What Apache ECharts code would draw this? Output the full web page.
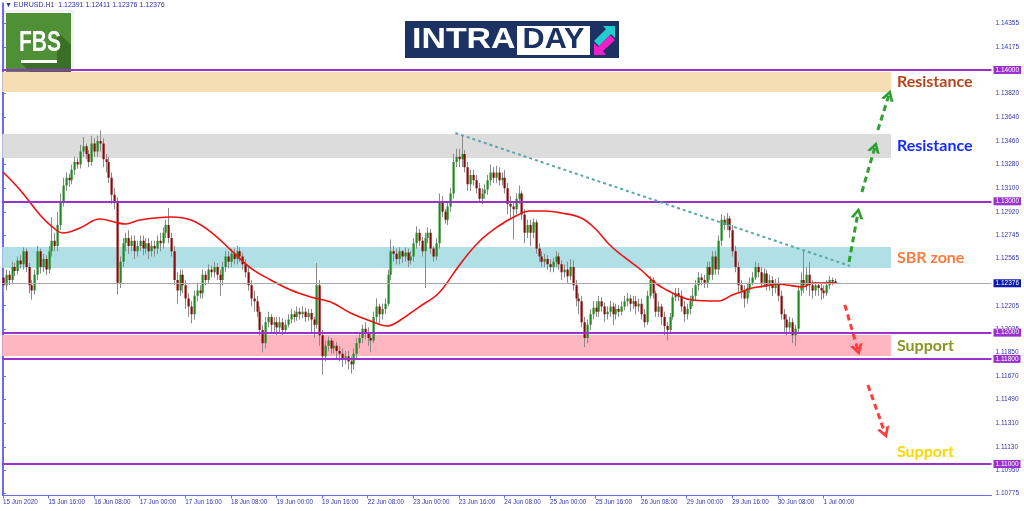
<!DOCTYPE html>
<html><head><meta charset="utf-8">
<script src="https://cdn.jsdelivr.net/npm/echarts@6/dist/echarts.min.js"></script>
<style>html,body{margin:0;padding:0;background:#fff}#c{width:1024px;height:511px}</style>
</head><body><div id="c"></div><script>
// ---------- DATA (EURUSD H1) ----------
const opens=[
1.1242,1.1236,1.1244,1.1240,1.1250,1.1247,1.1255,1.1252,1.1262,1.1250,1.1236,1.1232,1.1244,1.1262,1.1250,1.1256,
1.1248,1.1262,1.1270,1.1266,1.1282,1.1300,1.1312,1.1318,1.1316,1.1324,1.1330,1.1328,1.1338,1.1342,1.1336,1.1330,
1.1344,1.1338,1.1346,1.1344,1.1332,1.1330,1.1318,1.1305,1.1300,1.1238,1.1254,1.1268,1.1272,1.1266,1.1270,1.1262,
1.1266,1.1270,1.1264,1.1268,1.1262,1.1266,1.1264,1.1270,1.1268,1.1276,1.1282,1.1272,1.1262,1.1240,1.1232,1.1244,
1.1236,1.1226,1.1220,1.1214,1.1228,1.1232,1.1230,1.1244,1.1240,1.1248,1.1246,1.1250,1.1244,1.1240,1.1250,1.1258,
1.1254,1.1260,1.1256,1.1262,1.1258,1.1252,1.1246,1.1236,1.1226,1.1224,1.1216,1.1202,1.1192,1.1208,1.1212,1.1206,
1.1208,1.1204,1.1208,1.1202,1.1206,1.1210,1.1214,1.1212,1.1216,1.1214,1.1216,1.1212,1.1215,1.1210,1.1206,1.1236,
1.1198,1.1182,1.1190,1.1194,1.1188,1.1190,1.1186,1.1184,1.1180,1.1182,1.1178,1.1176,1.1184,1.1192,1.1196,1.1203,
1.1200,1.1196,1.1194,1.1212,1.1220,1.1214,1.1218,1.1222,1.1244,1.1262,1.1260,1.1256,1.1262,1.1258,1.1261,1.1255,
1.1258,1.1268,1.1276,1.1270,1.1262,1.1272,1.1276,1.1264,1.1258,1.1268,1.1300,1.1292,1.1286,1.1296,1.1306,1.1330,
1.1334,1.1332,1.1336,1.1326,1.1313,1.1320,1.1316,1.1310,1.1302,1.1306,1.1309,1.1316,1.1322,1.1318,1.1322,1.1316,
1.1318,1.1310,1.1298,1.1296,1.1294,1.1302,1.1306,1.1290,1.1276,1.1282,1.1276,1.1284,1.1264,1.1258,1.1254,1.1256,
1.1252,1.1250,1.1254,1.1258,1.1252,1.1246,1.1248,1.1243,1.1250,1.1236,1.1226,1.1224,1.1208,1.1196,1.1206,1.1214,
1.1219,1.1216,1.1224,1.1220,1.1214,1.1216,1.1220,1.1214,1.1218,1.1216,1.1220,1.1224,1.1226,1.1222,1.1224,1.1220,
1.1222,1.1214,1.1208,1.1228,1.1240,1.1230,1.1216,1.1220,1.1212,1.1205,1.1202,1.1212,1.1227,1.1230,1.1228,1.1220,
1.1214,1.1218,1.1224,1.1228,1.1236,1.1242,1.1240,1.1238,1.1250,1.1244,1.1258,1.1248,1.1270,1.1286,1.1282,1.1287,
1.1278,1.1262,1.1250,1.1236,1.1232,1.1226,1.1234,1.1238,1.1242,1.1250,1.1246,1.1238,1.1245,1.1236,1.1240,1.1234,
1.1238,1.1228,1.1214,1.1210,1.1204,1.1208,1.1198,1.1203,1.1232,1.1240,1.1236,1.1244,1.1236,1.1232,1.1236,1.1234,
1.1232,1.1230,1.1236,1.1240,1.12391];
const highs=[
1.1246,1.1248,1.1247,1.1254,1.1253,1.1258,1.1259,1.1265,1.1264,1.1253,1.1240,1.1248,1.1266,1.1264,1.1260,1.1259,
1.1266,1.1288,1.1276,1.1292,1.1306,1.1318,1.1322,1.1321,1.1328,1.1334,1.1333,1.1343,1.1349,1.1344,1.1339,1.1350,
1.1348,1.1350,1.1354,1.1348,1.1336,1.1334,1.1322,1.1310,1.1303,1.1258,1.1272,1.1276,1.1278,1.1274,1.1274,1.1270,
1.1274,1.1274,1.1272,1.1272,1.1270,1.1270,1.1274,1.1276,1.1280,1.1286,1.1295,1.1276,1.1266,1.1246,1.1248,1.1248,
1.1240,1.1230,1.1224,1.1232,1.1238,1.1236,1.1248,1.1247,1.1252,1.1251,1.1254,1.1253,1.1248,1.1254,1.1262,1.1262,
1.1264,1.1264,1.1266,1.1265,1.1261,1.1256,1.1250,1.1240,1.1232,1.1228,1.1220,1.1206,1.1212,1.1216,1.1214,1.1212,
1.1212,1.1212,1.1211,1.1210,1.1214,1.1218,1.1217,1.1220,1.1219,1.1220,1.1219,1.1218,1.1218,1.1212,1.1253,1.1240,
1.1202,1.1194,1.1197,1.1196,1.1194,1.1193,1.1190,1.1188,1.1186,1.1186,1.1182,1.1188,1.1196,1.1200,1.1206,1.1208,
1.1204,1.1200,1.1216,1.1226,1.1222,1.1222,1.1226,1.1248,1.1271,1.1266,1.1264,1.1265,1.1263,1.1265,1.1264,1.1262,
1.1272,1.1281,1.1279,1.1273,1.1276,1.1280,1.1279,1.1266,1.1272,1.1306,1.1304,1.1294,1.1300,1.1310,1.1336,1.1340,
1.1340,1.1350,1.1339,1.1330,1.1324,1.1324,1.1320,1.1314,1.1310,1.1313,1.1320,1.1328,1.1326,1.1327,1.1326,1.1322,
1.1324,1.1314,1.1304,1.1300,1.1306,1.1312,1.1308,1.1294,1.1286,1.1286,1.1287,1.1286,1.1268,1.1262,1.1260,1.1259,
1.1256,1.1257,1.1262,1.1261,1.1255,1.1252,1.1254,1.1256,1.1255,1.1240,1.1230,1.1228,1.1212,1.1210,1.1218,1.1224,
1.1224,1.1228,1.1227,1.1223,1.1220,1.1224,1.1223,1.1222,1.1221,1.1224,1.1228,1.1230,1.1229,1.1228,1.1228,1.1226,
1.1226,1.1218,1.1232,1.1243,1.1242,1.1232,1.1224,1.1222,1.1216,1.1208,1.1215,1.1230,1.1234,1.1234,1.1232,1.1224,
1.1222,1.1228,1.1234,1.1240,1.1246,1.1245,1.1244,1.1254,1.1254,1.1262,1.1262,1.1274,1.1290,1.1289,1.1291,1.1289,
1.1282,1.1266,1.1254,1.1240,1.1236,1.1238,1.1242,1.1246,1.1254,1.1253,1.1250,1.1249,1.1248,1.1244,1.1243,1.1241,
1.1242,1.1232,1.1218,1.1214,1.1212,1.1211,1.1206,1.1236,1.1246,1.1263,1.1250,1.1254,1.1240,1.1239,1.1238,1.1237,
1.1236,1.1240,1.1243,1.1242,1.12411];
const lows=[
1.1228,1.1232,1.1236,1.1237,1.1243,1.1244,1.1249,1.1248,1.1246,1.1230,1.1225,1.1229,1.1240,1.1245,1.1246,1.1244,
1.1245,1.1258,1.1262,1.1262,1.1278,1.1296,1.1308,1.1311,1.1313,1.1320,1.1325,1.1325,1.1334,1.1332,1.1326,1.1327,
1.1334,1.1334,1.1338,1.1326,1.1322,1.1314,1.1298,1.1294,1.1229,1.1234,1.1250,1.1262,1.1260,1.1262,1.1256,1.1258,
1.1262,1.1259,1.1260,1.1256,1.1258,1.1258,1.1260,1.1262,1.1264,1.1272,1.1268,1.1258,1.1236,1.1222,1.1228,1.1230,
1.1218,1.1212,1.1207,1.1210,1.1224,1.1226,1.1226,1.1236,1.1237,1.1242,1.1242,1.1240,1.1228,1.1236,1.1246,1.1249,
1.1250,1.1252,1.1252,1.1254,1.1248,1.1242,1.1232,1.1220,1.1216,1.1212,1.1198,1.1185,1.1188,1.1204,1.1200,1.1200,
1.1198,1.1200,1.1198,1.1200,1.1204,1.1207,1.1208,1.1209,1.1210,1.1211,1.1208,1.1209,1.1200,1.1196,1.1203,1.1190,
1.1168,1.1178,1.1186,1.1184,1.1184,1.1180,1.1178,1.1174,1.1176,1.1172,1.1169,1.1172,1.1180,1.1188,1.1192,1.1195,
1.1190,1.1185,1.1192,1.1208,1.1207,1.1210,1.1214,1.1220,1.1240,1.1254,1.1252,1.1252,1.1253,1.1254,1.1250,1.1252,
1.1254,1.1264,1.1266,1.1258,1.1234,1.1268,1.1260,1.1254,1.1255,1.1264,1.1288,1.1283,1.1282,1.1292,1.1302,1.1326,
1.1326,1.1326,1.1322,1.1308,1.1308,1.1312,1.1306,1.1299,1.1298,1.1302,1.1305,1.1312,1.1314,1.1314,1.1312,1.1312,
1.1306,1.1290,1.1286,1.1271,1.1290,1.1298,1.1286,1.1268,1.1272,1.1266,1.1272,1.1260,1.1254,1.1250,1.1250,1.1248,
1.1246,1.1246,1.1250,1.1248,1.1240,1.1242,1.1238,1.1240,1.1232,1.1220,1.1214,1.1204,1.1189,1.1192,1.1202,1.1210,
1.1212,1.1212,1.1216,1.1208,1.1210,1.1212,1.1206,1.1210,1.1212,1.1213,1.1217,1.1220,1.1216,1.1218,1.1214,1.1216,
1.1210,1.1204,1.1206,1.1226,1.1226,1.1212,1.1212,1.1206,1.1198,1.1194,1.1200,1.1210,1.1224,1.1224,1.1216,1.1208,
1.1210,1.1214,1.1220,1.1224,1.1232,1.1236,1.1234,1.1234,1.1240,1.1240,1.1244,1.1244,1.1266,1.1278,1.1278,1.1272,
1.1258,1.1246,1.1230,1.1226,1.1219,1.1222,1.1230,1.1236,1.1240,1.1242,1.1234,1.1235,1.1232,1.1232,1.1228,1.1230,
1.1224,1.1210,1.1200,1.1198,1.1200,1.1192,1.1190,1.1200,1.1228,1.1230,1.1232,1.1228,1.1226,1.1228,1.1228,1.1225,
1.1226,1.1228,1.1233,1.1236,1.12376];
const closes=[
1.1236,1.1244,1.1240,1.1250,1.1247,1.1255,1.1252,1.1262,1.1250,1.1236,1.1232,1.1244,1.1262,1.1250,1.1256,1.1248,
1.1262,1.1270,1.1266,1.1282,1.1300,1.1312,1.1318,1.1316,1.1324,1.1330,1.1328,1.1338,1.1342,1.1336,1.1330,1.1344,
1.1338,1.1346,1.1344,1.1332,1.1330,1.1318,1.1305,1.1300,1.1238,1.1254,1.1268,1.1272,1.1266,1.1270,1.1262,1.1266,
1.1270,1.1264,1.1268,1.1262,1.1266,1.1264,1.1270,1.1268,1.1276,1.1282,1.1272,1.1262,1.1240,1.1232,1.1244,1.1236,
1.1226,1.1220,1.1214,1.1228,1.1232,1.1230,1.1244,1.1240,1.1248,1.1246,1.1250,1.1244,1.1240,1.1250,1.1258,1.1254,
1.1260,1.1256,1.1262,1.1258,1.1252,1.1246,1.1236,1.1226,1.1224,1.1216,1.1202,1.1192,1.1208,1.1212,1.1206,1.1208,
1.1204,1.1208,1.1202,1.1206,1.1210,1.1214,1.1212,1.1216,1.1214,1.1216,1.1212,1.1215,1.1210,1.1206,1.1236,1.1198,
1.1182,1.1190,1.1194,1.1188,1.1190,1.1186,1.1184,1.1180,1.1182,1.1178,1.1176,1.1184,1.1192,1.1196,1.1203,1.1200,
1.1196,1.1194,1.1212,1.1220,1.1214,1.1218,1.1222,1.1244,1.1262,1.1260,1.1256,1.1262,1.1258,1.1261,1.1255,1.1258,
1.1268,1.1276,1.1270,1.1262,1.1272,1.1276,1.1264,1.1258,1.1268,1.1300,1.1292,1.1286,1.1296,1.1306,1.1330,1.1334,
1.1332,1.1336,1.1326,1.1313,1.1320,1.1316,1.1310,1.1302,1.1306,1.1309,1.1316,1.1322,1.1318,1.1322,1.1316,1.1318,
1.1310,1.1298,1.1296,1.1294,1.1302,1.1306,1.1290,1.1276,1.1282,1.1276,1.1284,1.1264,1.1258,1.1254,1.1256,1.1252,
1.1250,1.1254,1.1258,1.1252,1.1246,1.1248,1.1243,1.1250,1.1236,1.1226,1.1224,1.1208,1.1196,1.1206,1.1214,1.1219,
1.1216,1.1224,1.1220,1.1214,1.1216,1.1220,1.1214,1.1218,1.1216,1.1220,1.1224,1.1226,1.1222,1.1224,1.1220,1.1222,
1.1214,1.1208,1.1228,1.1240,1.1230,1.1216,1.1220,1.1212,1.1205,1.1202,1.1212,1.1227,1.1230,1.1228,1.1220,1.1214,
1.1218,1.1224,1.1228,1.1236,1.1242,1.1240,1.1238,1.1250,1.1244,1.1258,1.1248,1.1270,1.1286,1.1282,1.1287,1.1278,
1.1262,1.1250,1.1236,1.1232,1.1226,1.1234,1.1238,1.1242,1.1250,1.1246,1.1238,1.1245,1.1236,1.1240,1.1234,1.1238,
1.1228,1.1214,1.1210,1.1204,1.1208,1.1198,1.1203,1.1232,1.1240,1.1236,1.1244,1.1236,1.1232,1.1236,1.1234,1.1232,
1.1230,1.1236,1.1240,1.1239,1.12376];

// moving average (red line), sampled at bar indices
const maIdx=[0,6,13,17,21,27,34,39,43,48,59,66,73,80,87,94,101,108,115,122,129,135,139,146,153,160,167,174,180,185,190,196,203,208,213,218,224,229,233,238,242,251,256,259,263,268,272,275,281,284,292];
const maVals=[1.13223,1.13086,1.12896,1.12812,1.12759,1.12797,1.12865,1.12843,1.12827,1.12858,1.12881,1.12858,1.12766,1.12629,1.12492,1.12401,1.12325,1.12272,1.12233,1.12150,1.12089,1.12051,1.12089,1.12195,1.12302,1.12508,1.12690,1.12812,1.12888,1.12926,1.12926,1.12911,1.12873,1.12789,1.12667,1.12576,1.12477,1.12378,1.12325,1.12272,1.12249,1.12241,1.12287,1.12310,1.12340,1.12356,1.12371,1.12363,1.12348,1.12378,1.12380];

// axis ticks
const xTickIdx=[0,16,32,48,64,80,96,112,128,144,160,176,192,208,224,240,256,272,288];
const xTickLabels=['15 Jun 2020','15 Jun 16:00','16 Jun 08:00','17 Jun 00:00','17 Jun 16:00','18 Jun 08:00','19 Jun 00:00','19 Jun 16:00','22 Jun 08:00','23 Jun 00:00','23 Jun 16:00','24 Jun 08:00','25 Jun 00:00','25 Jun 16:00','26 Jun 08:00','29 Jun 00:00','29 Jun 16:00','30 Jun 08:00','1 Jul 00:00'];
const yTickVals=[1.14355,1.14175,1.13820,1.13640,1.13460,1.13280,1.13100,1.12920,1.12745,1.12565,1.12205,1.12025,1.11850,1.11670,1.11490,1.11310,1.11130,1.10950,1.10775];

// horizontal levels and zones
const levelVals=[1.14000,1.13000,1.12000,1.11800,1.11000];
const lastPrice=1.12376;
const zoneNames=['Resistance','Resistance','SBR zone','Support'];
const zoneLow=[1.13832,1.13330,1.12492,1.11822];
const zoneHigh=[1.13985,1.13513,1.12652,1.11982];
const zoneEndIdx=311.7;
const extraLabel={name:'Support',idx:311.7,price:1.11091};

// trend line and scenario arrows (bar index, price)
const trendLine=[[158.8,1.13520],[297.3,1.12508]];
const upArrows=[[[297.0,1.12538],[300.1,1.12911]],[[301.5,1.13071],[306.1,1.13414]],[[307.1,1.13543],[311.0,1.13810]]];
const downArrows=[[[295.5,1.12211],[300.1,1.11868]],[[303.6,1.11601],[309.6,1.11236]]];

// ---------- STYLE ----------
const X_MIN=-0.25, X_MAX=347, Y_MIN=1.1076, Y_MAX=1.1451;
const AXIS_COLOR='#6b6bef', LABEL_COLOR='#3434b4', PURPLE='#9932cc';
const FONT='"Liberation Sans", Arial, sans-serif';
const zoneFill=['#f5deb3','#dcdcdc','#b0e0e6','#ffb6c1'];
const zoneText=['#b5441b','#1428ff','#ff7b3d','#8a9622'];
const extraColor='#ffd700';
const CHEVRON='path://M6,0 L12,10 L9,10 L6,4.5 L3,10 L0,10 Z';

const candleData=closes.map((c,i)=>[i,opens[i],c,lows[i],highs[i]]);
function renderCandle(params,api){
  const i=api.value(0),o=api.value(1),c=api.value(2),l=api.value(3),h=api.value(4);
  const pH=api.coord([i,h]),pL=api.coord([i,l]),pO=api.coord([i,o]),pC=api.coord([i,c]);
  const x=Math.round(pH[0]);
  const top=Math.min(pO[1],pC[1]),bot=Math.max(pO[1],pC[1]);
  return {type:'group',children:[
    {type:'line',shape:{x1:x+0.5,y1:pH[1],x2:x+0.5,y2:pL[1]},style:{stroke:'#8a8a8a',lineWidth:1}},
    {type:'rect',shape:{x:x-0.5,y:top,width:2.2,height:Math.max(1,bot-top)},style:{fill:c>=o?'#1f8a1d':'#8b0808'}}
  ]};
}

const zoneData=zoneNames.map((n,k)=>[
  {name:n,xAxis:X_MIN,yAxis:zoneLow[k],itemStyle:{color:zoneFill[k]},label:{color:zoneText[k]}},
  {xAxis:zoneEndIdx,yAxis:zoneHigh[k]}]);

function levelLine(v,color,width,bg){
  return [{coord:[X_MIN,v],symbol:'none',lineStyle:{color:color,width:width,type:'solid'},
           label:{show:true,position:'end',distance:2,formatter:v.toFixed(5),color:'#fff',backgroundColor:bg,padding:[1,2,0,2],fontSize:6.5,fontFamily:FONT}},
          {coord:[X_MAX,v],symbol:'none'}];
}
const levelData=levelVals.map(v=>levelLine(v,PURPLE,2,PURPLE));
levelData.unshift(levelLine(lastPrice,'#a8a8a8',1,'#0b1aa8'));

const arrowLines=[];
upArrows.forEach(a=>arrowLines.push([{coord:a[0],symbol:'none',lineStyle:{color:'#2fa02f',width:3,type:[6,4]}},{coord:a[1],symbol:CHEVRON,symbolSize:[13,11]}]));
downArrows.forEach(a=>arrowLines.push([{coord:a[0],symbol:'none',lineStyle:{color:'#ff3b3b',width:3,type:[6,4]}},{coord:a[1],symbol:CHEVRON,symbolSize:[13,11]}]));
arrowLines.push([{coord:trendLine[0],symbol:'none',lineStyle:{color:'#5aa7a7',width:2,type:[3,3]}},{coord:trendLine[1],symbol:'none'}]);

const chart=echarts.init(document.getElementById('c'));
chart.setOption({
  animation:false,
  grid:{left:2,right:32.5,top:3,bottom:15.5},
  xAxis:{type:'value',min:X_MIN,max:X_MAX,
    axisLine:{show:true,onZero:false,lineStyle:{color:AXIS_COLOR,width:1}},
    axisTick:{show:true,customValues:xTickIdx,length:3,lineStyle:{color:AXIS_COLOR}},
    axisLabel:{customValues:xTickIdx,formatter:v=>xTickLabels[xTickIdx.indexOf(v)],color:LABEL_COLOR,fontSize:6.3,fontFamily:FONT,align:'left',margin:4},
    splitLine:{show:false}},
  yAxis:[{type:'value',position:'right',min:Y_MIN,max:Y_MAX,
    axisLine:{show:true,lineStyle:{color:AXIS_COLOR}},
    axisTick:{show:true,customValues:yTickVals,length:3,lineStyle:{color:AXIS_COLOR}},
    axisLabel:{customValues:yTickVals,formatter:v=>v.toFixed(5),color:LABEL_COLOR,fontSize:6.5,fontFamily:FONT,margin:4},
    splitLine:{show:false}},
   {type:'value',position:'left',min:Y_MIN,max:Y_MAX,axisLine:{show:true,lineStyle:{color:AXIS_COLOR}},
    axisTick:{show:false},axisLabel:{show:false},splitLine:{show:false}}],
  series:[
    {type:'line',data:[],z:1,silent:true,
     markArea:{silent:true,label:{show:true,position:'right',distance:6,fontFamily:'Lato',fontWeight:'bold',fontSize:16},data:zoneData},
     markPoint:{silent:true,symbol:'circle',symbolSize:0.01,data:[{name:extraLabel.name,coord:[extraLabel.idx,extraLabel.price],
       label:{show:true,position:'right',distance:6,formatter:extraLabel.name,color:extraColor,fontFamily:'Lato',fontWeight:'bold',fontSize:16}}]}},
    {type:'line',data:[],z:2,silent:true,
     markLine:{silent:true,symbol:['none','none'],animation:false,data:levelData}},
    {type:'custom',z:3,renderItem:renderCandle,data:candleData,encode:{x:0,y:[1,2,3,4]},clip:true},
    {type:'line',z:4,data:maIdx.map((k,j)=>[k,maVals[j]]),smooth:0.4,symbol:'none',lineStyle:{color:'#f01010',width:1.6},silent:true},
    {type:'line',data:[],z:5,silent:true,
     markLine:{silent:true,symbol:['none','none'],animation:false,label:{show:false},data:arrowLines}}
  ],
  graphic:[
    {type:'text',x:5,y:2,style:{text:'\u25BC EURUSD.H1  1.12391 1.12411 1.12376 1.12376',fill:'#2e2ea8',font:'7px "Liberation Sans", Arial'}},
    {type:'rect',shape:{x:4,y:11,width:69,height:69},style:{fill:'#ffffff',stroke:'#e4e4e4',lineWidth:1}},
    {type:'rect',shape:{x:6,y:13,width:65,height:65},style:{fill:'#4f8f36'}},
    {type:'polygon',shape:{points:[[57,31],[71,45],[71,78],[36,78],[21,63],[57,63]]},style:{fill:'#3a6f26'}},
    {type:'text',x:19,y:43,scaleX:0.7,style:{text:'FBS',fill:'#ffffff',font:'bold 30px "Liberation Sans", Arial',verticalAlign:'middle'}},
    {type:'rect',shape:{x:21,y:60,width:36,height:3},style:{fill:'#ffffff'}},
    {type:'rect',shape:{x:405,y:21,width:214,height:37},style:{fill:'#1b3263'}},
    {type:'text',x:412,y:40,scaleX:1.13,style:{text:'INTRA',fill:'#ffffff',font:'bold 30px "Liberation Sans", Arial',verticalAlign:'middle'}},
    {type:'rect',shape:{x:517,y:26,width:73,height:29},style:{fill:'#ffffff'}},
    {type:'text',x:553.5,y:40,scaleX:1.02,style:{text:'DAY',fill:'#1b3263',font:'bold 30px "Liberation Sans", Arial',verticalAlign:'middle',align:'center'}},
    {type:'polygon',shape:{points:[[603,26],[615,26],[615,38],[611,34],[599,46],[594,41],[606,29]]},style:{fill:'#22cdd0'}},
    {type:'polygon',shape:{points:[[594,55],[594,43],[598,47],[610,35],[615,40],[603,51],[606,55]]},style:{fill:'#f21fc8'}}
  ]
});
</script></body></html>
